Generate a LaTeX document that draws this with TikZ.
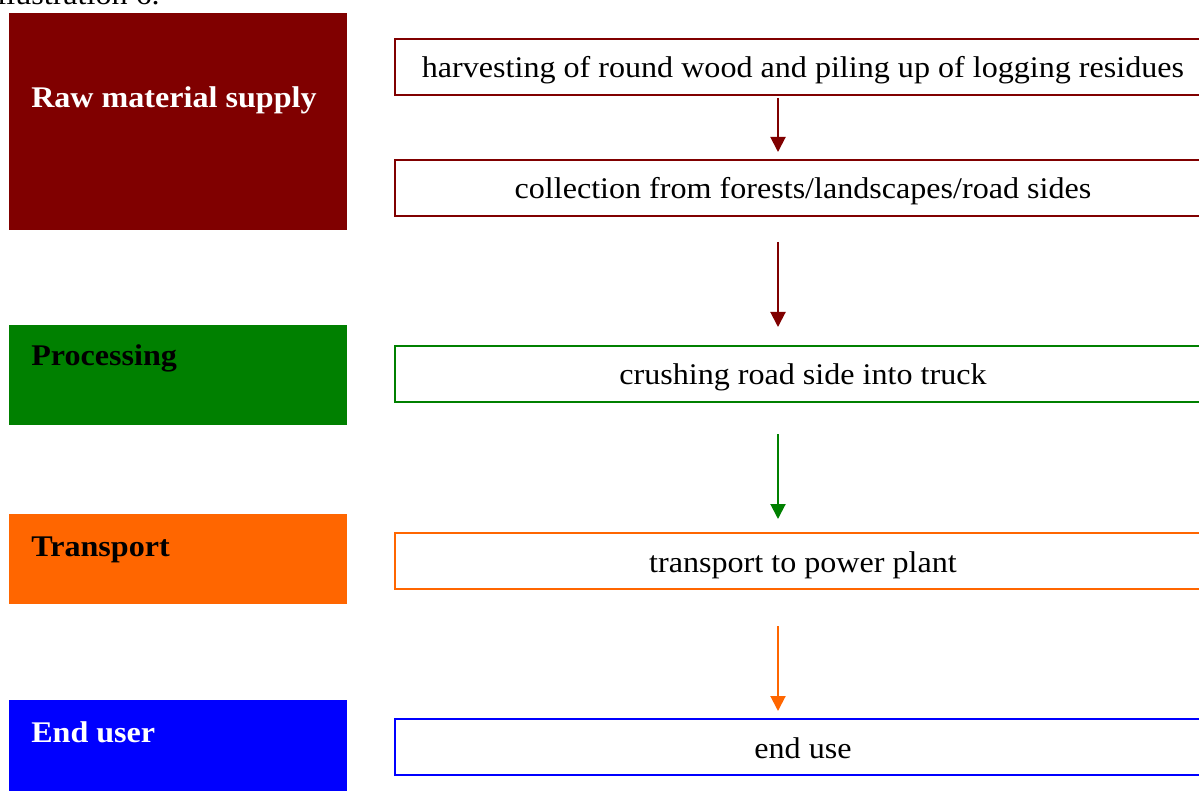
\documentclass[tikz,border=0pt]{standalone}
\usepackage{fontspec}
\setmainfont[FakeStretch=1.07]{Liberation Serif}
\usetikzlibrary{arrows.meta}
\definecolor{rawred}{HTML}{800000}
\definecolor{procgreen}{HTML}{008000}
\definecolor{transorange}{HTML}{FF6600}
\definecolor{endblue}{HTML}{0000FF}
\begin{document}
\begin{tikzpicture}[x=0.75pt,y=-0.75pt,
  phase/.style={rectangle, inner sep=0pt, anchor=north west, minimum width=253.5pt},
  phaselabel/.style={anchor=base west, inner sep=0pt, font=\fontsize{22.5}{27}\selectfont\bfseries},
  stepbox/.style={rectangle, draw=#1, line width=1.5pt, fill=white, inner sep=0pt,
    anchor=north west, minimum width=612pt, minimum height=42pt,
    text height=16.5pt, text depth=0pt,
    font=\fontsize{22.5}{27}\selectfont},
  flow/.style={draw=#1, line width=1.5pt, -{Triangle[width=11.25pt,length=11.25pt]}}
]
\useasboundingbox (0,0) rectangle (1199,791);
\clip (0,0) rectangle (1199,791);
\fill[white] (0,0) rectangle (1199,791);

% caption line, partly cut off at the top
\node[anchor=base east, inner sep=0pt, font=\fontsize{22.5}{27}\selectfont] (caption) at (160,5) {Illustration 6.};

% phase blocks on the left
\node[phase, fill=rawred, minimum height=162.75pt] (raw) at (9,13) {};
\node[phaselabel, text=white] (rawlbl) at (31,108) {Raw material supply};
\node[phase, fill=procgreen, minimum height=75pt] (proc) at (9,325) {};
\node[phaselabel, text=black] (proclbl) at (31,366) {Processing};
\node[phase, fill=transorange, minimum height=67.5pt] (trans) at (9,514) {};
\node[phaselabel, text=black] (translbl) at (31,556) {Transport};
\node[phase, fill=endblue, minimum height=75pt] (enduser) at (9,700) {};
\node[phaselabel, text=white] (endlbl) at (31,742) {End user};

% process steps on the right
\node[stepbox=rawred] (harvest) at (394,38) {harvesting of round wood and piling up of logging residues};
\node[stepbox=rawred] (collect) at (394,159) {collection from forests/landscapes/road sides};
\node[stepbox=procgreen] (crush) at (394,345) {crushing road side into truck};
\node[stepbox=transorange] (haul) at (394,532) {transport to power plant};
\node[stepbox=endblue] (use) at (394,718) {end use};

% arrows between steps
\coordinate (ax) at (778,0);
\draw[flow=rawred, shorten <=1.5pt, shorten >=5.25pt] (harvest.south -| ax) -- (collect.north -| ax);
\draw[flow=rawred, shorten <=18.75pt, shorten >=13.5pt] (collect.south -| ax) -- (crush.north -| ax);
\draw[flow=procgreen, shorten <=23.25pt, shorten >=9.75pt] (crush.south -| ax) -- (haul.north -| ax);
\draw[flow=transorange, shorten <=27pt, shorten >=5.25pt] (haul.south -| ax) -- (use.north -| ax);
\end{tikzpicture}
\end{document}
